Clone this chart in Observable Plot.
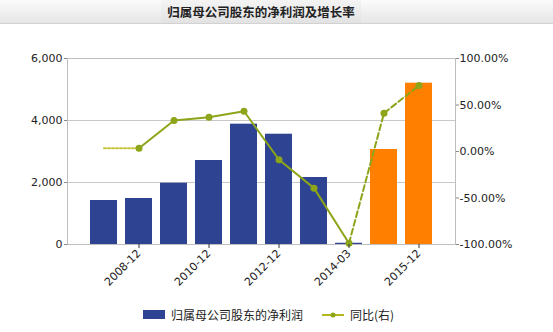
<!DOCTYPE html>
<html>
<head>
<meta charset="utf-8">
<script src="https://cdn.jsdelivr.net/npm/d3@7"></script>
<script src="https://cdn.jsdelivr.net/npm/@observablehq/plot@0.6"></script>
<style>
  html, body { margin: 0; padding: 0; background: #fff; }
  body { width: 553px; height: 332px; overflow: hidden; position: relative; font-family: "DejaVu Sans", sans-serif; }
  #header { position: absolute; left: 0; top: 0; width: 553px; height: 23px;
    background: linear-gradient(#fbfbfb, #e6e6e6); border-bottom: 1px solid #d2d2d2; }
  #title { position: absolute; left: 161px; width: 200px; top: 0; height: 23px; line-height: 24px; text-align: center;
    font-family: "Noto Sans CJK SC", sans-serif; font-weight: bold; font-size: 12.5px; color: #222;
    background: linear-gradient(#f4f4f4, #e2e2e2); }
  #chart { position: absolute; left: 0; top: 24px; }
  #legend { position: absolute; left: 0; top: 304px; width: 553px; height: 22px;
    font-family: "Noto Sans CJK SC", sans-serif; font-size: 12px; color: #222; }
  .sw { position: absolute; }
</style>
</head>
<body>
<div id="header"><div id="title">归属母公司股东的净利润及增长率</div></div>
<div id="chart"></div>
<div id="legend">
  <div class="sw" style="left:143px; top:6px; width:22px; height:9px; background:#2e4492;"></div>
  <div class="sw" style="left:171px; top:0px; line-height:21px;">归属母公司股东的净利润</div>
  <svg class="sw" style="left:320px; top:5px;" width="26" height="12"><line x1="2" y1="6" x2="24" y2="6" stroke="#b5b81c" stroke-width="2"/><circle cx="13" cy="6" r="2.5" fill="#8ca519"/></svg>
  <div class="sw" style="left:350px; top:0px; line-height:21px;">同比(右)</div>
</div>
<script>
const dates = ["2007-12","2008-12","2009-12","2010-12","2011-12","2012-12","2013-12","2014-03","2014-12","2015-12"];
const profit = [1419, 1484, 1978, 2710, 3881, 3558, 2161, 40, 3065, 5203];
const growth = [null, 3.5, 33.3, 36.9, 43.3, -8.9, -39.4, -98.6, 41.2, 71.0];
const forecastDates = ["2014-12","2015-12"];
const tickDates = ["2008-12","2010-12","2012-12","2014-03","2015-12"];
const leftTicks = [0, 2000, 4000, 6000];
const rightTicks = [-100, -50, 0, 50, 100];

const blue = "#2e4492", orange = "#ff7f00", green = "#8ca519";
const toLeft = g => 3000 + g * 30; // map growth % onto left axis range (100% -> 6000, -100% -> 0)

const bars = dates.map((d, i) => ({date: d, value: profit[i], kind: forecastDates.includes(d) ? "forecast" : "actual"}));
const pts = dates.map((d, i) => ({date: d, g: growth[i]})).filter(d => d.g !== null);
const firstIdx = dates.findIndex(d => forecastDates.includes(d));
const solid = pts.filter(d => dates.indexOf(d.date) < firstIdx);
const dashed = pts.filter(d => dates.indexOf(d.date) >= firstIdx - 1);
const dotted = [{date: dates[0], g: growth[1]}, {date: dates[1], g: growth[1]}];

const chart = Plot.plot({
  width: 553,
  height: 276,
  marginTop: 34,
  marginBottom: 56,
  marginLeft: 67,
  marginRight: 98,
  style: {fontFamily: "DejaVu Sans, sans-serif", fontSize: "11px", color: "#222", background: "transparent"},
  x: {type: "band", domain: dates, paddingInner: 0.22, paddingOuter: 0.61, align: 0.5},
  y: {domain: [0, 6000]},
  color: {domain: ["actual", "forecast"], range: [blue, orange]},
  marks: [
    Plot.gridY(leftTicks.filter(t => t > 0 && t < 6000), {stroke: "#c8c8c8", strokeOpacity: 1}),
    Plot.barY(bars, {x: "date", y: "value", fill: "kind"}),
    Plot.frame({stroke: "#bdbdbd"}),
    Plot.line(dotted, {x: "date", y: d => toLeft(d.g), stroke: "#c9c43a", strokeWidth: 2, strokeDasharray: "2,2"}),
    Plot.line(solid, {x: "date", y: d => toLeft(d.g), stroke: green, strokeWidth: 2}),
    Plot.line(dashed, {x: "date", y: d => toLeft(d.g), stroke: green, strokeWidth: 2, strokeDasharray: "6,3"}),
    Plot.dot(pts, {x: "date", y: d => toLeft(d.g), r: 3.5, fill: green}),
    Plot.axisY({ticks: leftTicks, tickFormat: d3.format(","), tickSize: 3, tickPadding: 2, label: null, stroke: "#888"}),
    Plot.axisY({anchor: "right", ticks: rightTicks.map(toLeft), tickFormat: d => ((d - 3000) / 30).toFixed(2) + "%", tickSize: 3, tickPadding: 1, label: null, stroke: "#888"}),
    Plot.axisX({ticks: tickDates, tickRotate: -45, tickSize: 4, tickPadding: 3, label: null, stroke: "#333"})
  ]
});
document.getElementById("chart").appendChild(chart);
</script>
</body>
</html>
